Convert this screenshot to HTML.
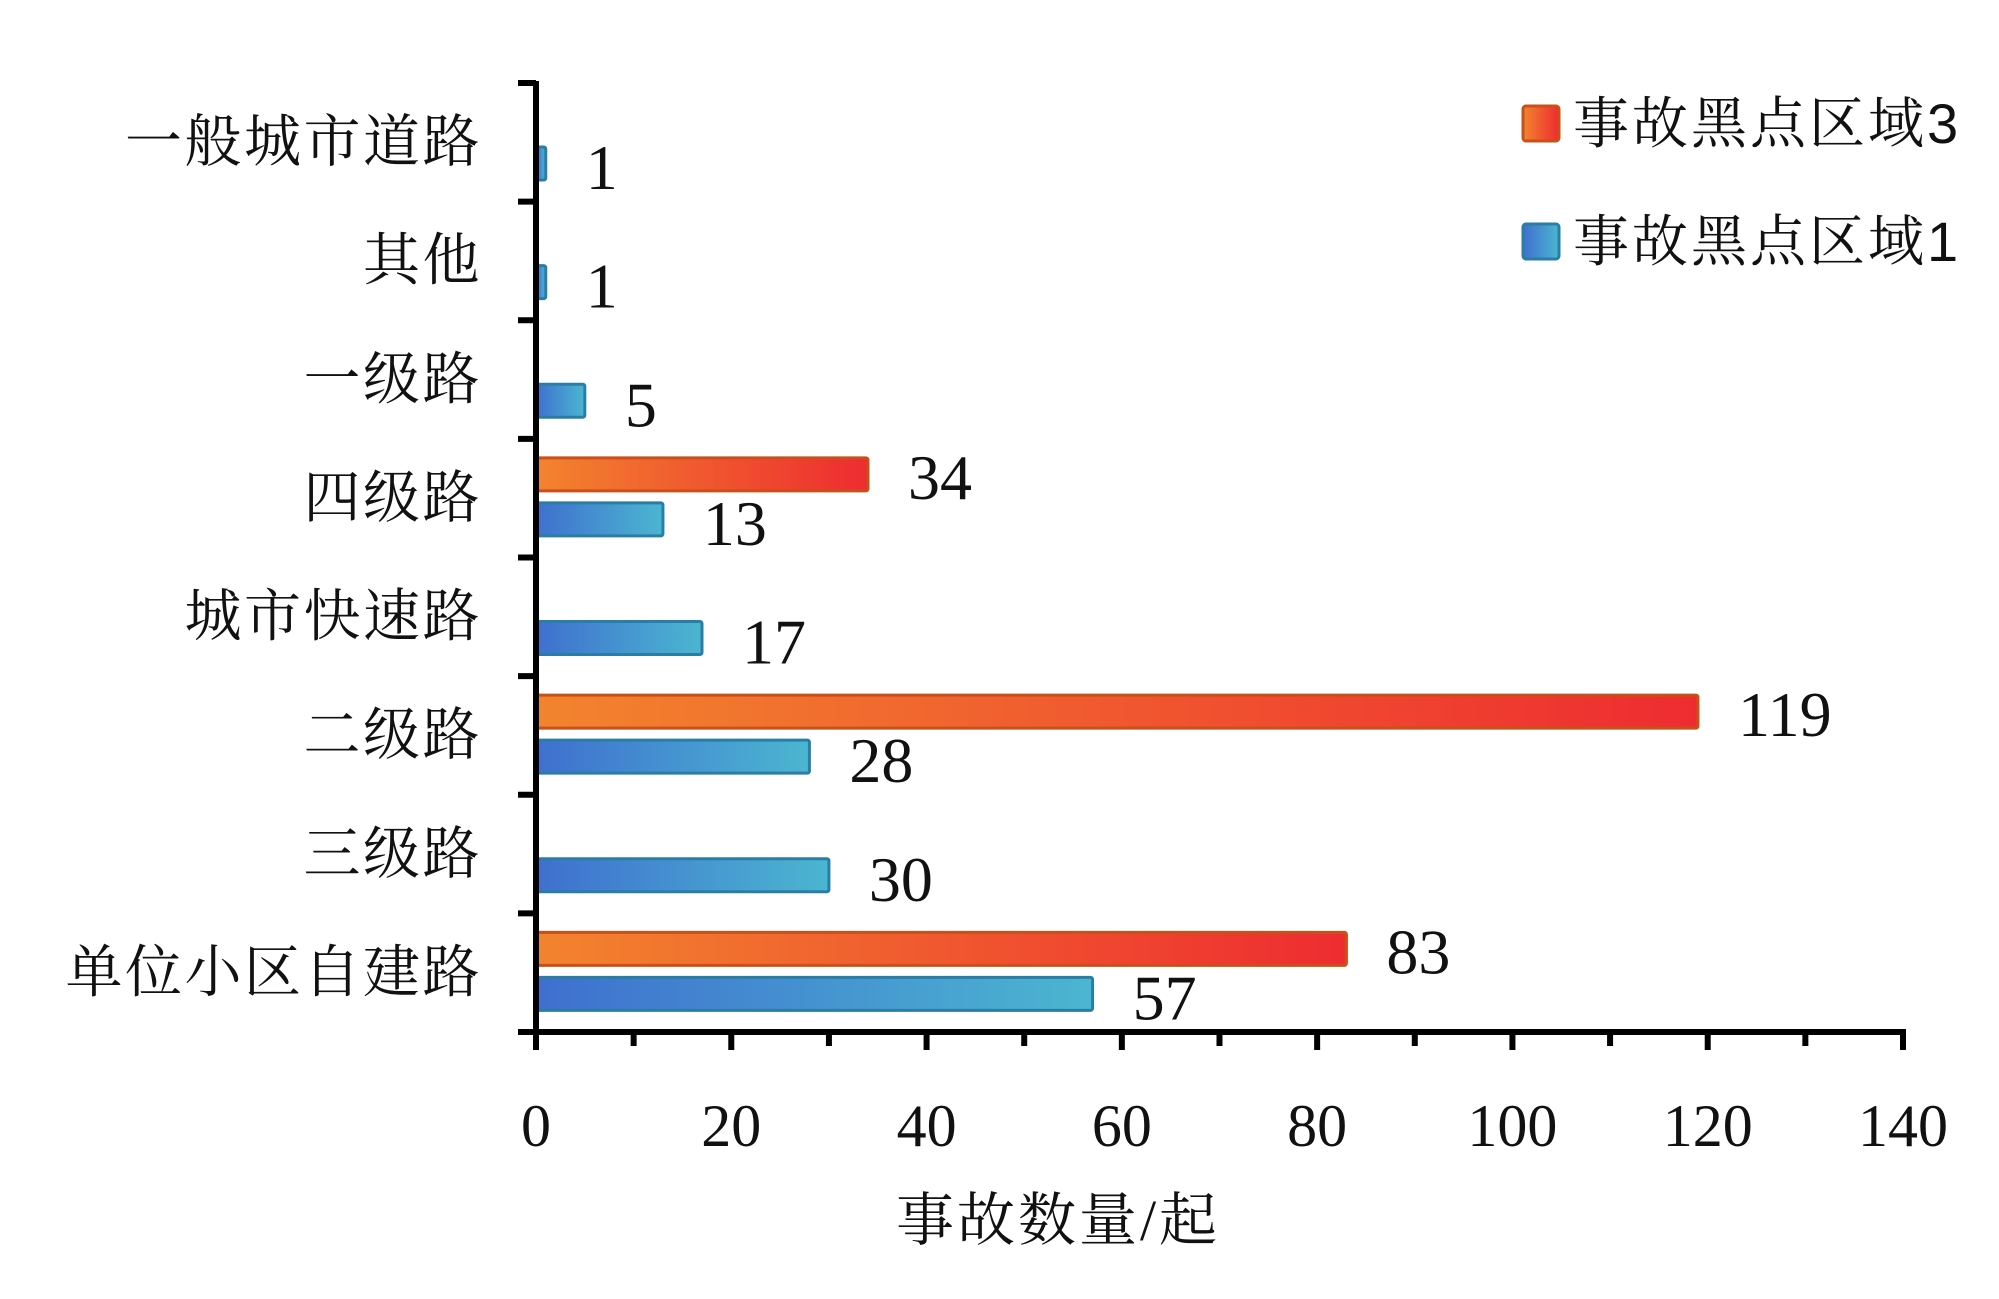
<!DOCTYPE html>
<html><head><meta charset="utf-8">
<style>
html,body{margin:0;padding:0;background:#fff;}
svg{display:block;}
.cat{font-family:"Liberation Serif","Noto Serif CJK SC",serif;font-size:57px;fill:#111;letter-spacing:2.5px;}
.num{font-family:"Liberation Serif","Noto Serif CJK SC",serif;font-size:64px;fill:#111;}
.tick{font-family:"Liberation Serif","Noto Serif CJK SC",serif;font-size:60px;fill:#111;}
.leg{font-family:"Liberation Sans","Noto Serif CJK SC",sans-serif;font-size:56px;fill:#111;letter-spacing:3px;}
.title{font-family:"Liberation Serif","Noto Serif CJK SC",serif;font-size:58px;fill:#111;letter-spacing:3px;}
</style></head>
<body>
<svg id="chart" width="1999" height="1299" viewBox="0 0 1999 1299" xmlns="http://www.w3.org/2000/svg">
<defs>
<linearGradient id="gOrange" x1="0" x2="1" y1="0" y2="0"><stop offset="0" stop-color="#f2842e"/><stop offset="1" stop-color="#ee2c30"/></linearGradient>
<linearGradient id="gBlue" x1="0" x2="1" y1="0" y2="0"><stop offset="0" stop-color="#3f6fcf"/><stop offset="1" stop-color="#4bb6d0"/></linearGradient>
</defs>
<g id="bars"></g>
<g id="axes"></g>
<g id="legend">
  <g>
    <rect x="1523" y="106" width="36" height="35" rx="3" fill="url(#gOrange)" stroke="#c8501a" stroke-width="3"/>
    <text class="leg" x="1573" y="143">事故黑点区域3</text>
  </g>
  <g>
    <rect x="1523" y="224" width="36" height="35" rx="3" fill="url(#gBlue)" stroke="#2a7ea6" stroke-width="3"/>
    <text class="leg" x="1573" y="261">事故黑点区域1</text>
  </g>
</g>
<text class="title" x="1058" y="1240" text-anchor="middle">事故数量/起</text>
</svg>
<script>
const categories = ["一般城市道路","其他","一级路","四级路","城市快速路","二级路","三级路","单位小区自建路"];
const area3Values = [null,null,null,34,null,119,null,83];
const area1Values = [1,1,5,13,17,28,30,57];
const xTicks = [0,20,40,60,80,100,120,140];

const NS = "http://www.w3.org/2000/svg";
const X0 = 536, X1 = 1903, XMAX = 140;
const YTOP = 83, YBOT = 1032;
const band = (YBOT - YTOP) / categories.length;
function xScale(v){ return X0 + (X1 - X0) * v / XMAX; }
function bandTop(i){ return YTOP + band * i; }
function mk(tag, attrs, parent){
  const el = document.createElementNS(NS, tag);
  for (const k in attrs) el.setAttribute(k, attrs[k]);
  parent.appendChild(el);
  return el;
}
const bars = document.getElementById('bars');
const axes = document.getElementById('axes');

categories.forEach((c, i) => {
  const t = bandTop(i);
  const lab = mk('text', {x: 482, y: t + 78, 'text-anchor': 'end', class: 'cat'}, axes);
  
  
  lab.textContent = c;
  const v3 = area3Values[i];
  if (v3 !== null && v3 !== undefined) {
    const r = mk('rect', {x: X0, y: t + 19, width: xScale(v3) - X0, height: 33, rx: 2, fill: 'url(#gOrange)', stroke: '#c8501a', 'stroke-width': 3}, bars);
    
    
    const tx = mk('text', {x: xScale(v3) + 40, y: t + 60, class: 'num'}, bars);
    
    
    tx.textContent = v3;
  }
  const v1 = area1Values[i];
  if (v1 !== null && v1 !== undefined) {
    const r = mk('rect', {x: X0, y: t + 64, width: xScale(v1) - X0, height: 33, rx: 2, fill: 'url(#gBlue)', stroke: '#2a7ea6', 'stroke-width': 3}, bars);
    
    
    const tx = mk('text', {x: xScale(v1) + 40, y: t + 106, class: 'num'}, bars);
    
    
    tx.textContent = v1;
  }
});

const ya = mk('line', {x1: X0, y1: YTOP - 2, x2: X0, y2: YBOT + 18, stroke: '#000', 'stroke-width': 6}, axes);


for (let i = 0; i <= categories.length; i++) {
  const y = bandTop(i);
  const tk = mk('line', {x1: 518, y1: y, x2: X0, y2: y, stroke: '#000', 'stroke-width': 6}, axes);
  
  
}
const xa = mk('line', {x1: 518, y1: YBOT, x2: X1 + 3, y2: YBOT, stroke: '#000', 'stroke-width': 6}, axes);


for (let v = 0; v <= XMAX; v += 10) {
  const major = v % 20 === 0;
  const tk = mk('line', {x1: xScale(v), y1: YBOT, x2: xScale(v), y2: YBOT + (major ? 18 : 14), stroke: '#000', 'stroke-width': 6}, axes);
  
  
}
xTicks.forEach(v => {
  const t = mk('text', {x: xScale(v), y: 1146, 'text-anchor': 'middle', class: 'tick'}, axes);
  
  
  t.textContent = v;
});
</script>
</body></html>
